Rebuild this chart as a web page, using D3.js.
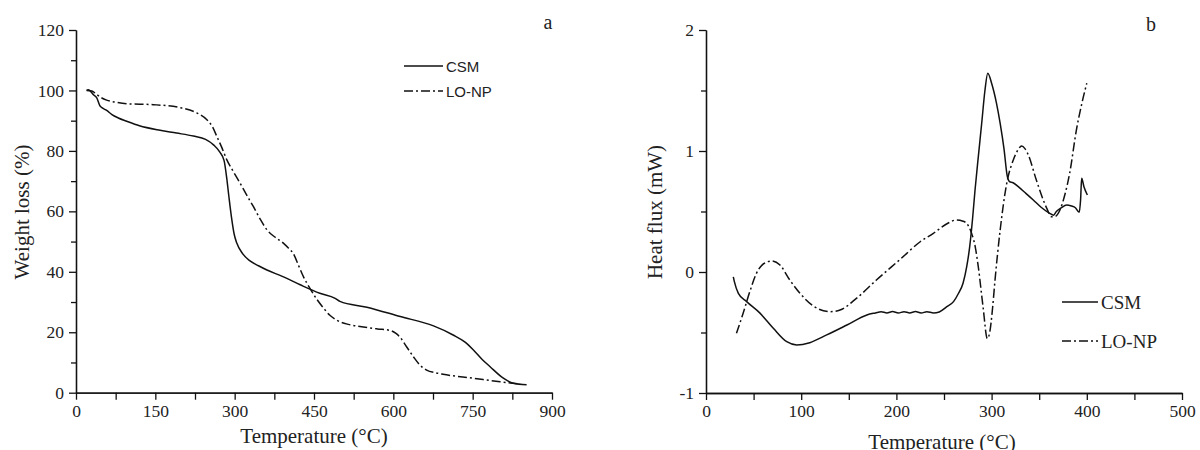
<!DOCTYPE html>
<html lang="en">
  <head>
    <meta charset="utf-8">
    <title>TGA / DSC</title>
    <script src="https://cdn.jsdelivr.net/npm/d3@7/dist/d3.min.js"></script>
    <style>
      body { margin: 0; background: #fff; }
      text { font-family: "Liberation Serif", "Times New Roman", serif; fill: #222; }
    </style>
  </head>
  <body>
    <script>

      // panel a: TGA weight loss (%) vs temperature
      var tgaCSM = [[20,100],[23,100.2],[34,98.4],[39,97.6],[45,95],[49,94.3],[58,93.4],[68,92],[80,90.9],[96,89.8],[120,88.3],[159,86.8],[190,85.9],[222,84.9],[245,83.8],[260,82],[272,79.6],[280,76.8],[285,71],[289,65],[294,58],[299,52.5],[304,49.5],[315,46],[329,43.6],[345,42],[361,40.6],[390,38.5],[424,35.7],[461,32.9],[490,31.2],[499,30.2],[550,28.3],[613,25.2],[676,22.1],[713,19.1],[735,16.8],[751,14.2],[768,11],[783,8.6],[808,4.8],[827,3.1],[852,2.6]];
      var tgaLONP = [[20,100],[30,99.8],[39,98.7],[48,97.6],[58,96.8],[75,96.1],[96,95.6],[146,95.3],[197,94.3],[228,92.6],[247,90.4],[258,88],[266,84.9],[276,81],[285,77.1],[298,73],[310,69.4],[322,65.6],[335,61.7],[348,57.5],[361,53.9],[376,51.5],[392,49.5],[402,47.8],[411,46],[421,42],[430,38.4],[442,34.6],[455,31],[468,28],[480,25.6],[493,24],[515,22.6],[537,21.9],[570,21.1],[594,20.6],[605,19.6],[613,18.3],[625,15.2],[638,11.9],[650,9.2],[663,7.5],[680,6.6],[694,6.1],[751,4.8],[802,3.6],[840,2.9]];
      var tickA_x = [0, 150, 300, 450, 600, 750, 900];
      var minorA_x = [75, 225, 375, 525, 675, 825];
      var tickA_y = [0, 20, 40, 60, 80, 100, 120];
      var minorA_y = [10, 30, 50, 70, 90, 110];

      // panel b: DSC heat flux (mW) vs temperature
      var dscCSM = [[28.7,-0.04],[29.8,-0.08],[34,-0.176],[42.7,-0.245],[56.7,-0.34],[70.7,-0.465],[84.8,-0.576],[95.3,-0.603],[109,-0.584],[126.8,-0.52],[148,-0.438],[169,-0.355],[178,-0.338],[184,-0.328],[190,-0.338],[196,-0.327],[202,-0.339],[208,-0.328],[214,-0.338],[220,-0.327],[226,-0.339],[232,-0.328],[239,-0.338],[245,-0.33],[253,-0.287],[260,-0.245],[265,-0.18],[270,-0.093],[274,0.05],[277,0.209],[280,0.44],[282.6,0.678],[286,0.95],[289.6,1.229],[293,1.5],[296,1.642],[300,1.56],[305,1.4],[309,1.229],[313,1.02],[316.5,0.79],[319,0.746],[322,0.74],[328,0.705],[336,0.65],[343.8,0.595],[352,0.535],[361,0.485],[365,0.47],[368,0.5],[373,0.53],[378.9,0.554],[384,0.545],[388,0.531],[392,0.493],[393.5,0.6],[394.6,0.774],[397,0.705],[400.6,0.636]];
      var dscLONP = [[32,-0.507],[39,-0.341],[46,-0.163],[53,-0.011],[58,0.05],[63.7,0.082],[69,0.091],[77.7,0.058],[88,-0.066],[98.7,-0.176],[112.7,-0.281],[130,-0.328],[140.8,-0.314],[158,-0.218],[179,-0.066],[204,0.105],[225,0.25],[238.8,0.32],[254.5,0.405],[263,0.43],[270,0.42],[274,0.4],[279,0.32],[283,0.2],[286,0.044],[291,-0.287],[295.5,-0.55],[298,-0.5],[301,-0.3],[303.6,-0.066],[309,0.347],[315.9,0.733],[322.8,0.926],[327,1.0],[331.6,1.041],[335,1.02],[338.6,0.967],[347,0.76],[358,0.526],[363,0.457],[367,0.46],[371.8,0.512],[377,0.64],[382,0.816],[389,1.17],[395,1.4],[400,1.56]];
      var tickB_x = [0, 100, 200, 300, 400, 500];
      var minorB_x = [50, 150, 250, 350, 450];
      var tickB_y = [-1, 0, 1, 2];
      var minorB_y = [-0.5, 0.5, 1.5];

      var seriesNames = ["CSM", "LO-NP"];
      var dashDot = "9,3,2,3";

      var svg = d3.select("body").append("svg")
                  .attr("width", 1200)
                  .attr("height", 450);

      // plain hyphen for negatives, like the original figure
      var plain = function(d) { return String(d); };

      function drawPanel(xs, ys, ticksX, minorX, ticksY, minorY) {
        var g = svg.append("g");
        var y0 = ys.range()[0], x0 = xs.range()[0];

        // minor ticks first, then the labelled ones
        g.append("g").attr("transform", "translate(0," + y0 + ")")
          .call(d3.axisBottom(xs).tickValues(minorX).tickSize(7).tickSizeOuter(0).tickFormat(""));
        g.append("g").attr("transform", "translate(" + x0 + ",0)")
          .call(d3.axisLeft(ys).tickValues(minorY).tickSize(5).tickSizeOuter(0).tickFormat(""));

        g.append("g").attr("transform", "translate(0," + y0 + ")")
          .call(d3.axisBottom(xs).tickValues(ticksX).tickSize(7).tickSizeOuter(0).tickPadding(5).tickFormat(plain));
        g.append("g").attr("transform", "translate(" + x0 + ",0)")
          .call(d3.axisLeft(ys).tickValues(ticksY).tickSize(7).tickSizeOuter(0).tickPadding(5).tickFormat(plain));

        g.selectAll(".tick text").style("font-size", "17.5px").style("font-family", "Liberation Serif");
        g.selectAll(".domain, .tick line").attr("stroke", "#111").attr("stroke-width", 1.3);
        return g;
      }

      function drawLine(g, xs, ys, data, dash) {
        var line = d3.line().x(function(d) { return xs(d[0]); }).y(function(d) { return ys(d[1]); })
                     .curve(d3.curveMonotoneX);
        g.append("path").datum(data)
          .attr("d", line)
          .attr("fill", "none")
          .attr("stroke", "#111")
          .attr("stroke-width", 1.5)
          .attr("stroke-dasharray", dash);
      }

      // ---- panel a
      var xA = d3.scaleLinear().domain([0, 900]).range([76, 552]);
      var yA = d3.scaleLinear().domain([0, 120]).range([392.7, 30]);
      var gA = drawPanel(xA, yA, tickA_x, minorA_x, tickA_y, minorA_y);
      drawLine(gA, xA, yA, tgaCSM, null);
      drawLine(gA, xA, yA, tgaLONP, dashDot);

      gA.append("text").attr("x", 314).attr("y", 443).attr("text-anchor", "middle")
        .style("font-size", "21px").text("Temperature (\u00B0C)");
      gA.append("text").attr("transform", "translate(29,212) rotate(-90)").attr("text-anchor", "middle")
        .style("font-size", "21px").text("Weight loss (%)");
      gA.append("text").attr("x", 548).attr("y", 29).attr("text-anchor", "middle")
        .style("font-size", "20px").text("a");

      seriesNames.forEach(function(name, i) {
        var ly = 66 + i * 25;
        gA.append("line").attr("x1", 404).attr("x2", 443).attr("y1", ly).attr("y2", ly)
          .attr("stroke", "#111").attr("stroke-width", 1.5).attr("stroke-dasharray", i ? dashDot : null);
        gA.append("text").attr("x", 446).attr("y", ly + 5.5)
          .style("font-family", "Liberation Sans").style("font-size", "15px").text(name);
      });

      // ---- panel b
      var xB = d3.scaleLinear().domain([0, 500]).range([706, 1182]);
      var yB = d3.scaleLinear().domain([-1, 2]).range([393, 30]);
      var gB = drawPanel(xB, yB, tickB_x, minorB_x, tickB_y, minorB_y);
      drawLine(gB, xB, yB, dscCSM, null);
      drawLine(gB, xB, yB, dscLONP, dashDot);

      gB.append("text").attr("x", 942).attr("y", 449).attr("text-anchor", "middle")
        .style("font-size", "21px").text("Temperature (\u00B0C)");
      gB.append("text").attr("transform", "translate(662,212) rotate(-90)").attr("text-anchor", "middle")
        .style("font-size", "21px").text("Heat flux (mW)");
      gB.append("text").attr("x", 1151).attr("y", 31).attr("text-anchor", "middle")
        .style("font-size", "20px").text("b");

      seriesNames.forEach(function(name, i) {
        var ly = 302 + i * 39;
        gB.append("line").attr("x1", 1062).attr("x2", 1098).attr("y1", ly).attr("y2", ly)
          .attr("stroke", "#111").attr("stroke-width", 1.5).attr("stroke-dasharray", i ? dashDot : null);
        gB.append("text").attr("x", 1101).attr("y", ly + 6.5)
          .style("font-size", "19px").text(name);
      });

    </script>
  </body>
</html>
